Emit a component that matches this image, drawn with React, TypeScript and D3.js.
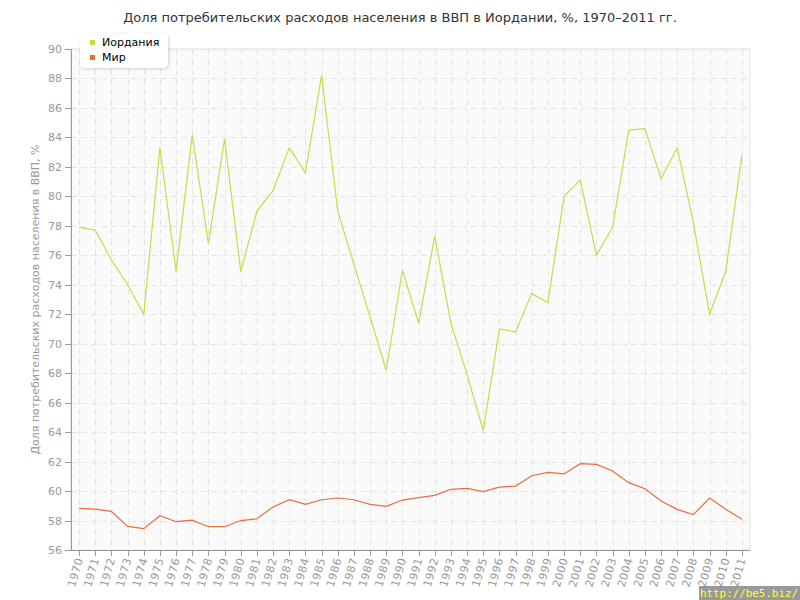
import React from "react";
import * as d3 from "d3";

const years: number[] = d3.range(1970, 2012);
const jordan: number[] = [
  77.9, 77.7, 75.7, 74.0, 72.0, 83.3, 74.9, 84.2, 76.8, 83.9,
  74.9, 79.0, 80.4, 83.3, 81.6, 88.2, 79.0, 75.4, 71.8, 68.2,
  75.0, 71.4, 77.3, 71.4, 67.9, 64.1, 71.0, 70.8, 73.4, 72.8,
  80.0, 81.1, 76.0, 77.9, 84.5, 84.6, 81.2, 83.3, 78.2, 72.0,
  74.9, 82.8,
];
const world: number[] = [
  58.83, 58.78, 58.62, 57.6, 57.45, 58.33, 57.92, 58.03, 57.58, 57.58,
  58.0, 58.12, 58.92, 59.41, 59.1, 59.41, 59.53, 59.41, 59.1, 58.96,
  59.39, 59.55, 59.71, 60.12, 60.18, 59.96, 60.27, 60.34, 61.04, 61.27,
  61.16, 61.86, 61.81, 61.36, 60.57, 60.16, 59.32, 58.76, 58.4, 59.53,
  58.76, 58.08,
];
const yTicks: number[] = d3.range(56, 91, 2);
const seriesNames: string[] = ["Иордания", "Мир"];
const seriesColors: string[] = ["#c2de48", "#ea6d3b"];

const title = "Доля потребительских расходов населения в ВВП в Иордании, %, 1970–2011 гг.";
const yTitle = "Доля потребительских расходов населения в ВВП, %";

export default function App() {
  const W = 800, H = 600;
  const left = 71, right = 750, top = 49, bottom = 550;
  const x = d3.scalePoint<number>().domain(years).range([left, right]).padding(0.5);
  const y = d3.scaleLinear().domain([56, 90]).range([bottom, top]);
  const line = d3.line<number>().x((_, i) => x(years[i])!).y((d) => y(d));
  const font = "DejaVu Sans, Verdana, sans-serif";
  return (
    <svg width={W} height={H} style={{ position: "absolute", left: 0, top: 0 }} fontFamily={font}>
      <defs>
        <filter id="sh" x="-20%" y="-20%" width="140%" height="160%">
          <feDropShadow dx="1" dy="1" stdDeviation="1.5" floodColor="#000" floodOpacity="0.18" />
        </filter>
      </defs>
      <rect x={0} y={0} width={W} height={H} fill="#fff" />
      <text x={400} y={22} textAnchor="middle" fontSize={13} fill="#333">{title}</text>
      <rect x={left} y={top} width={right - left} height={bottom - top} fill="#fafafa" stroke="#e2e2e2" strokeWidth={1} />
      {yTicks.map((t) => (
        <line key={"gy" + t} x1={left} x2={right} y1={Math.round(y(t)) + 0.5} y2={Math.round(y(t)) + 0.5}
          stroke="#e4e4e4" strokeWidth={1} strokeDasharray="6,4" />
      ))}
      {years.map((yr) => (
        <line key={"gx" + yr} x1={Math.round(x(yr)!) + 0.5} x2={Math.round(x(yr)!) + 0.5} y1={top} y2={bottom}
          stroke="#e4e4e4" strokeWidth={1} strokeDasharray="6,4" />
      ))}
      <line x1={left + 0.5} x2={left + 0.5} y1={top} y2={bottom} stroke="#999" />
      <line x1={left} x2={right} y1={bottom + 0.5} y2={bottom + 0.5} stroke="#999" />
      {yTicks.map((t) => (
        <g key={"ty" + t}>
          <line x1={left - 6} x2={left} y1={Math.round(y(t)) + 0.5} y2={Math.round(y(t)) + 0.5} stroke="#999" />
          <text x={left - 9} y={y(t) + 4} textAnchor="end" fontSize={11} fill="#999">{t}</text>
        </g>
      ))}
      {years.map((yr) => (
        <g key={"tx" + yr}>
          <line x1={Math.round(x(yr)!) + 0.5} x2={Math.round(x(yr)!) + 0.5} y1={bottom} y2={bottom + 6} stroke="#999" />
          <text transform={`translate(${x(yr)! + 4},${bottom + 9}) rotate(-74)`} textAnchor="end" fontSize={11}
            fill="#999" letterSpacing={0.5}>{yr}</text>
        </g>
      ))}
      <text transform={`translate(39,${(top + bottom) / 2}) rotate(-90)`} textAnchor="middle" fontSize={11} fill="#999">{yTitle}</text>
      <path d={line(world) || ""} fill="none" stroke={seriesColors[1]} strokeWidth={1.2} />
      <path d={line(jordan) || ""} fill="none" stroke={seriesColors[0]} strokeWidth={1.2} />
      <rect x={80} y={33} width={88} height={35} rx={5} ry={5} fill="#fff" filter="url(#sh)" />
      {seriesNames.map((n, i) => (
        <g key={n}>
          <rect x={90} y={40 + i * 15} width={5} height={5} fill={seriesColors[i]} />
          <text x={102} y={46 + i * 15} fontSize={11} fill="#000">{n}</text>
        </g>
      ))}
      <rect x={699} y={586} width={101} height={14} fill="#999" />
      <text x={700} y={597} fontSize={11} fill="#ffff33" fontFamily="DejaVu Sans Mono, monospace"
        textLength={98} lengthAdjust="spacingAndGlyphs">http://be5.biz/</text>
    </svg>
  );
}
